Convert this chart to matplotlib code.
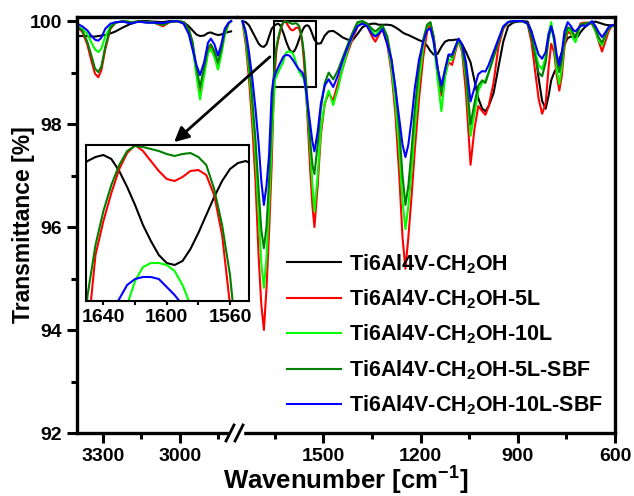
import matplotlib
matplotlib.use('Agg')
import matplotlib.pyplot as plt
from matplotlib.lines import Line2D
from matplotlib.patches import Rectangle

plt.rcParams['font.family'] = ['Liberation Sans', 'DejaVu Sans']
plt.rcParams['font.weight'] = 'bold'
plt.rcParams['mathtext.fontset'] = 'custom'
plt.rcParams['mathtext.rm'] = 'Liberation Sans:bold'
plt.rcParams['mathtext.it'] = 'Liberation Sans:bold'
plt.rcParams['mathtext.bf'] = 'Liberation Sans:bold'

# wavenumbers (cm-1), high-frequency part left of the break
wn_left = [3400, 3380, 3360, 3345, 3330, 3317, 3305, 3290, 3270, 3250,
           3220, 3190, 3160, 3130, 3100, 3065, 3040, 3010, 2985, 2965,
           2950, 2935, 2921, 2905, 2890, 2879, 2865, 2851, 2838, 2825,
           2810, 2800]

# fingerprint part right of the break
wn_right = [1750, 1740, 1730, 1720, 1710, 1700, 1692, 1684, 1676, 1668,
            1660, 1655, 1650, 1645, 1640, 1635, 1630, 1625, 1620, 1615,
            1610, 1605, 1600, 1595, 1590, 1585, 1580, 1575, 1570, 1565,
            1560, 1555, 1550, 1545, 1540, 1534, 1528, 1518, 1508, 1496,
            1484, 1470, 1455, 1440, 1425, 1410, 1395, 1380, 1365, 1350,
            1340, 1330, 1318, 1303, 1290, 1278, 1266, 1256, 1247, 1238,
            1228, 1218, 1205, 1192, 1180, 1170, 1160, 1148, 1136, 1125,
            1114, 1103, 1093, 1083, 1072, 1060, 1046, 1034, 1022, 1010,
            1000, 990, 975, 960, 945, 930, 915, 900, 885, 870,
            858, 846, 836, 825, 814, 805, 797, 788, 780, 772,
            764, 756, 746, 736, 728, 722, 715, 707, 698, 690,
            680, 671, 660, 650, 640, 630, 620, 610, 600]

# transmittance [%]
ch2oh_left = [99.71, 99.71, 99.71, 99.7, 99.7, 99.71, 99.72, 99.73, 99.76, 99.8,
              99.88, 99.95, 100.0, 100.0, 99.99, 99.98, 100.0, 100.0, 99.98, 99.9,
              99.82, 99.74, 99.71, 99.72, 99.77, 99.78, 99.75, 99.73, 99.74, 99.77,
              99.79, 99.8]
ch2oh_right = [100.0, 99.98, 99.92, 99.8, 99.68, 99.56, 99.51, 99.5, 99.55, 99.7,
               99.85, 99.89, 99.92, 99.94, 99.95, 99.93, 99.87, 99.79, 99.7, 99.6,
               99.52, 99.45, 99.41, 99.4, 99.42, 99.48, 99.56, 99.65, 99.74, 99.82,
               99.88, 99.91, 99.92, 99.9, 99.84, 99.74, 99.64, 99.56, 99.57, 99.72,
               99.8, 99.81, 99.75, 99.68, 99.64, 99.63, 99.75, 99.88, 99.93, 99.95,
               99.95, 99.93, 99.93, 99.93, 99.92, 99.88, 99.83, 99.78, 99.75, 99.73,
               99.7, 99.67, 99.63, 99.6, 99.52, 99.42, 99.35, 99.36, 99.5, 99.6,
               99.63, 99.63, 99.64, 99.64, 99.55, 99.4, 99.2, 98.85, 98.5, 98.3,
               98.25, 98.35, 98.6, 99.1, 99.6, 99.9, 99.97, 99.99, 100.0, 99.99,
               99.8, 99.4, 98.9, 98.45, 98.3, 98.55, 98.85, 99.0, 99.1, 99.25,
               99.4, 99.55, 99.67, 99.7, 99.69, 99.68, 99.7, 99.78, 99.85, 99.9,
               99.95, 99.98, 99.99, 99.97, 99.95, 99.93, 99.92, 99.92, 99.92]

l5_left = [99.88, 99.8, 99.55, 99.25, 98.98, 98.91, 99.05, 99.45, 99.85, 99.97,
           100.0, 99.98, 99.99, 99.98, 99.97, 99.9, 99.98, 100.0, 99.98, 99.85,
           99.55, 99.0, 98.62, 99.0, 99.4, 99.49, 99.35, 99.14, 99.4, 99.75,
           99.95, 100.0]
l5_right = [99.98, 99.55, 98.88, 98.0, 96.9, 95.4, 94.5, 94.0, 94.8, 95.9,
            97.2, 98.3, 99.05, 99.45, 99.62, 99.76, 99.88, 99.96, 100.0, 99.97,
            99.92, 99.87, 99.83, 99.82, 99.84, 99.87, 99.875, 99.85, 99.75, 99.55,
            99.2, 98.75, 98.2, 97.6, 97.0, 96.4, 96.0, 96.8, 97.8, 98.4,
            98.6, 98.46, 98.8, 99.1, 99.4, 99.65, 99.9, 99.98, 99.9, 99.7,
            99.6, 99.72, 99.85, 99.55, 99.0, 98.2, 97.0, 95.8, 95.19, 95.8,
            96.6, 97.5, 98.5, 99.3, 99.8, 99.95, 99.7, 99.1, 98.55, 98.95,
            99.2, 99.15, 99.4, 99.62, 99.4, 98.6, 97.21, 97.9, 98.35, 98.25,
            98.18, 98.35, 98.8, 99.5, 99.85, 99.98, 100.0, 100.0, 100.0, 99.95,
            99.6, 99.0, 98.5, 98.2, 98.4, 99.1, 99.56, 99.4, 98.95, 98.65,
            98.95, 99.5, 99.8, 99.75, 99.72, 99.7, 99.8, 99.95, 99.97, 99.97,
            99.97, 99.95, 99.8, 99.6, 99.41, 99.6, 99.8, 99.9, 99.92]

l10_left = [99.9, 99.85, 99.75, 99.6, 99.45, 99.40, 99.47, 99.7, 99.9, 99.97,
            100.0, 99.98, 99.99, 99.98, 99.97, 99.93, 99.98, 100.0, 99.97, 99.82,
            99.5, 98.95, 98.48, 98.95, 99.38, 99.46, 99.3, 99.06, 99.35, 99.72,
            99.95, 100.0]
l10_right = [100.0, 99.65, 99.05, 98.3, 97.4, 96.2, 95.3, 94.82, 95.4, 96.4,
             97.6, 98.3, 98.85, 98.93, 99.0, 99.07, 99.13, 99.2, 99.32, 99.39,
             99.41, 99.41, 99.4, 99.37, 99.3, 99.2, 99.1, 99.02, 98.97, 98.92,
             98.87, 98.65, 98.3, 97.9, 97.4, 96.8, 96.3, 97.0, 97.9, 98.4,
             98.65, 98.37, 98.7, 99.1, 99.45, 99.7, 99.95, 100.0, 99.95, 99.8,
             99.72, 99.8, 99.9, 99.6, 99.1, 98.4, 97.5, 96.5, 95.96, 96.4,
             97.1, 97.9, 98.8, 99.5, 99.9, 99.97, 99.6, 98.9, 98.25, 98.9,
             99.25, 99.25, 99.45, 99.62, 99.45, 98.9, 97.77, 98.2, 98.65, 98.8,
             98.85, 99.0, 99.3, 99.6, 99.88, 99.98, 100.0, 100.0, 100.0, 99.95,
             99.75, 99.4, 99.15, 99.07, 99.3, 99.75, 99.98, 99.6, 99.05, 98.78,
             99.1, 99.6, 99.85, 99.8, 99.65, 99.59, 99.75, 99.92, 99.95, 99.95,
             99.97, 99.95, 99.8, 99.62, 99.53, 99.7, 99.85, 99.9, 99.92]

l5sbf_left = [99.9, 99.82, 99.6, 99.35, 99.08, 99.01, 99.12, 99.5, 99.87, 99.97,
              100.0, 99.98, 99.99, 99.98, 99.97, 99.93, 99.98, 100.0, 99.98, 99.85,
              99.6, 99.1, 98.72, 99.1, 99.48, 99.55, 99.42, 99.2, 99.45, 99.78,
              99.96, 100.0]
l5sbf_right = [100.0, 99.75, 99.2, 98.5, 97.7, 96.7, 95.95, 95.59, 96.0, 96.9,
               98.1, 98.8, 99.25, 99.5, 99.67, 99.8, 99.9, 99.97, 99.995, 99.99,
               99.98, 99.97, 99.955, 99.945, 99.955, 99.96, 99.94, 99.9, 99.78, 99.6,
               99.35, 98.95, 98.5, 98.0, 97.6, 97.2, 97.03, 97.6, 98.3, 98.8,
               99.0, 98.87, 99.05, 99.3, 99.55, 99.78, 99.98, 100.0, 99.95, 99.85,
               99.8, 99.85, 99.92, 99.7, 99.25, 98.7, 97.9, 97.0, 96.43, 96.8,
               97.5, 98.3, 99.1, 99.65, 99.93, 99.98, 99.7, 99.1, 98.63, 99.05,
               99.33, 99.3, 99.5, 99.65, 99.5, 99.0, 97.99, 98.4, 98.75, 98.85,
               98.8, 99.0, 99.3, 99.6, 99.88, 99.98, 100.0, 100.0, 100.0, 99.95,
               99.7, 99.3, 99.0, 98.93, 99.2, 99.65, 99.9, 99.65, 99.25, 99.01,
               99.25, 99.65, 99.88, 99.85, 99.75, 99.7, 99.8, 99.93, 99.95, 99.95,
               99.97, 99.95, 99.85, 99.68, 99.58, 99.72, 99.86, 99.9, 99.92]

l10sbf_left = [99.95, 99.9, 99.82, 99.72, 99.64, 99.62, 99.68, 99.85, 99.95, 99.98,
               99.99, 99.95, 99.99, 99.97, 99.97, 99.96, 99.99, 100.0, 99.95, 99.75,
               99.45, 99.15, 98.95, 99.2, 99.58, 99.66, 99.55, 99.33, 99.55, 99.85,
               99.97, 100.0]
l10sbf_right = [100.0, 99.8, 99.4, 98.9, 98.3, 97.6, 96.9, 96.43, 96.8, 97.4,
                98.6, 98.85, 98.95, 99.03, 99.1, 99.17, 99.23, 99.3, 99.33, 99.34,
                99.34, 99.33, 99.29, 99.25, 99.2, 99.15, 99.1, 99.06, 99.03, 99.0,
                98.9, 98.7, 98.45, 98.2, 97.95, 97.65, 97.47, 97.85, 98.4, 98.75,
                98.87, 98.72, 98.95, 99.25, 99.5, 99.72, 99.9, 99.95, 99.9, 99.75,
                99.7, 99.75, 99.85, 99.55, 99.25, 98.7, 98.1, 97.6, 97.36, 97.6,
                98.1, 98.7, 99.25, 99.6, 99.82, 99.86, 99.6, 99.1, 98.75, 99.05,
                99.35, 99.35, 99.5, 99.66, 99.55, 99.2, 98.44, 98.7, 98.97, 99.03,
                99.02, 99.15, 99.4, 99.65, 99.9, 99.98, 100.0, 100.0, 100.0, 99.95,
                99.8, 99.55, 99.35, 99.27, 99.4, 99.75, 99.9, 99.7, 99.35, 99.14,
                99.4, 99.8, 99.98, 99.9, 99.82, 99.8, 99.85, 99.9, 99.92, 99.9,
                99.95, 100.0, 99.9, 99.78, 99.69, 99.78, 99.88, 99.92, 99.93]

labels = ['Ti6Al4V-CH$_2$OH', 'Ti6Al4V-CH$_2$OH-5L', 'Ti6Al4V-CH$_2$OH-10L',
          'Ti6Al4V-CH$_2$OH-5L-SBF', 'Ti6Al4V-CH$_2$OH-10L-SBF']
colors = ['#000000', '#ff0000', '#00ff00', '#008000', '#0000ff']
left_series = [ch2oh_left, l5_left, l10_left, l5sbf_left, l10sbf_left]
right_series = [ch2oh_right, l5_right, l10_right, l5sbf_right, l10sbf_right]

W, H = 634, 496
fig = plt.figure(figsize=(W / 100, H / 100), dpi=100)

# broken x axis: two panels side by side (pixel layout of the original)
bot, top = 1 - 433 / H, 416 / H
ax1 = fig.add_axes([77 / W, bot, 160 / W, top])
ax2 = fig.add_axes([237 / W, bot, 378 / W, top], sharey=ax1)

for ys, c in zip(left_series, colors):
  ax1.plot(wn_left, ys, color=c, lw=1.5)
for ys, c in zip(right_series, colors):
  ax2.plot(wn_right, ys, color=c, lw=1.5)

ax1.set_xlim(3400, 2777)
ax2.set_xlim(1767, 600)
ax1.set_ylim(92, 100.08)

ax1.set_xticks([3300, 3000])
ax1.set_xticks([3150, 2850], minor=True)
ax2.set_xticks([1500, 1200, 900, 600])
ax2.set_xticks([1650, 1350, 1050, 750], minor=True)
ax1.set_yticks([92, 94, 96, 98, 100])
ax1.set_yticks([93, 95, 97, 99], minor=True)

for ax in (ax1, ax2):
  for s in ax.spines.values():
    s.set_linewidth(2.4)
  ax.tick_params(which='major', direction='out', length=7, width=2.2, labelsize=14, pad=4)
  ax.tick_params(which='minor', direction='out', length=4, width=2.2)
  ax.tick_params(top=False, right=False, which='both')
ax1.spines['right'].set_visible(False)
ax2.spines['left'].set_visible(False)
ax2.tick_params(axis='y', which='both', left=False, labelleft=False)

# zoom box and arrow
ax2.add_patch(Rectangle((1522, 98.72), 132, 1.28, fill=False, lw=1.5, color='k'))
ax2.annotate('', xy=(172 / W, 1 - 144 / H), xytext=(272 / W, 1 - 55 / H),
             xycoords='figure fraction', textcoords='figure fraction',
             arrowprops=dict(arrowstyle='-|>', lw=2, color='k', mutation_scale=22))

# break marks on bottom axis
fig.add_artist(Rectangle((229 / W, 1 - 438 / H), 14 / W, 10 / H, transform=fig.transFigure,
                         color='white', zorder=5))
for x0 in (226, 235):
  fig.add_artist(Line2D([x0 / W, (x0 + 8) / W], [1 - 441 / H, 1 - 425 / H],
                        transform=fig.transFigure, color='k', lw=2, zorder=6))

# inset
axin = fig.add_axes([86 / W, 1 - 301 / H, 163 / W, 156 / H])
for ys, c in zip(right_series, colors):
  axin.plot(wn_right, ys, color=c, lw=1.5)
axin.set_xlim(1651, 1548)
axin.set_ylim(99.22, 100.0)
axin.set_xticks([1640, 1600, 1560])
axin.set_xticks([1620, 1580], minor=True)
axin.set_yticks([])
for s in axin.spines.values():
  s.set_linewidth(1.5)
axin.tick_params(which='major', direction='out', length=3, width=1.5, labelsize=14, pad=3)
axin.tick_params(which='minor', direction='out', length=3, width=1.5)

# legend
handles = [Line2D([], [], color=c, lw=1.5) for c in colors]
ax2.legend(handles, labels, loc='upper left', bbox_to_anchor=(287 / W, 1 - 252 / H),
           bbox_transform=fig.transFigure, frameon=False, fontsize=15.5,
           handlelength=2.5, handletextpad=0.4, labelspacing=0.55,
           borderpad=0, borderaxespad=0)

fig.text(346 / W, 1 - 490 / H, 'Wavenumber [cm$^{-1}$]', ha='center', va='baseline',
         fontsize=18.5, fontweight='bold')
fig.text(24 / W, 1 - 225 / H, 'Transmittance [%]', ha='center', va='center',
         rotation=90, fontsize=16.5, fontweight='bold')

fig.savefig('out.png', dpi=100)
